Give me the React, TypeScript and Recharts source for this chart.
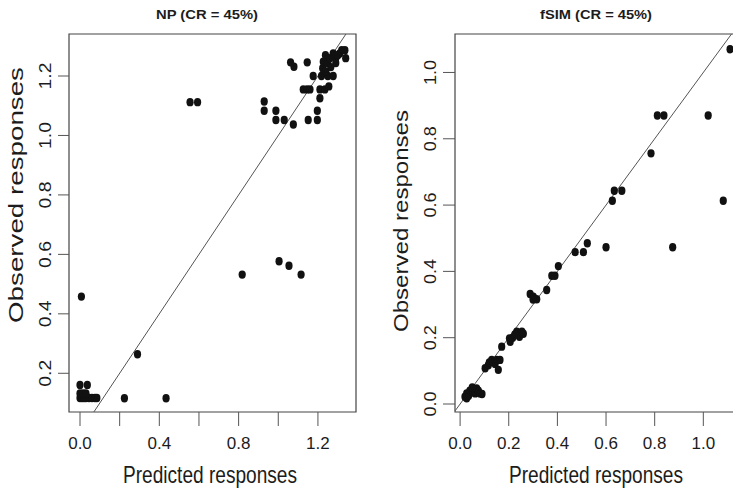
import React from 'react';
import { ScatterChart, Scatter, XAxis, YAxis, ReferenceLine, ReferenceArea } from 'recharts';

// ---------- Data ----------
const npPredicted = [
  0.000, 0.010, 0.020, 0.030, 0.045, 0.060, 0.075, 0.085,
  0.000, 0.015, 0.030, 0.000, 0.037, 0.007,
  0.224, 0.434, 0.290,
  0.818, 1.004, 1.054, 1.115,
  0.555, 0.593,
  0.929, 0.929, 0.988, 0.988, 1.030, 1.076,
  1.062, 1.079, 1.146,
  1.151, 1.197, 1.197, 1.210,
  1.126, 1.145, 1.160, 1.210, 1.235, 1.255,
  1.176, 1.218, 1.250, 1.277,
  1.224, 1.240, 1.227, 1.250, 1.290, 1.238, 1.277, 1.310, 1.290, 1.340, 1.320, 1.336, 1.260, 1.300, 1.265,
];
const npObserved = [
  0.117, 0.117, 0.117, 0.117, 0.117, 0.117, 0.117, 0.117,
  0.132, 0.132, 0.132, 0.161, 0.161, 0.458,
  0.116, 0.116, 0.264,
  0.532, 0.577, 0.562, 0.532,
  1.112, 1.112,
  1.114, 1.083, 1.083, 1.052, 1.052, 1.037,
  1.246, 1.231, 1.246,
  1.052, 1.052, 1.083, 1.125,
  1.155, 1.155, 1.155, 1.155, 1.155, 1.165,
  1.200, 1.200, 1.200, 1.200,
  1.226, 1.215, 1.248, 1.244, 1.244, 1.270, 1.276, 1.276, 1.260, 1.260, 1.287, 1.287, 1.260, 1.270, 1.230,
];

const fsimPredicted = [
  0.020, 0.027, 0.027, 0.035, 0.040, 0.048, 0.055, 0.062, 0.068, 0.075, 0.082, 0.090, 0.050,
  0.103, 0.116, 0.130, 0.144, 0.151, 0.164, 0.157, 0.120,
  0.171,
  0.203, 0.206, 0.216, 0.233, 0.244, 0.254, 0.260, 0.225,
  0.288, 0.301, 0.315, 0.300,
  0.356, 0.377, 0.390, 0.404,
  0.473, 0.507, 0.523, 0.600, 0.874,
  0.626, 0.634, 0.665, 1.082,
  0.785, 0.811, 0.838, 1.020, 1.110,
];
const fsimObserved = [
  0.022, 0.017, 0.032, 0.025, 0.040, 0.042, 0.035, 0.032, 0.047, 0.040, 0.032, 0.030, 0.050,
  0.108, 0.117, 0.133, 0.121, 0.133, 0.133, 0.103, 0.125,
  0.173,
  0.198, 0.188, 0.200, 0.218, 0.203, 0.218, 0.212, 0.210,
  0.332, 0.324, 0.316, 0.315,
  0.344, 0.387, 0.387, 0.416,
  0.458, 0.458, 0.485, 0.473, 0.473,
  0.613, 0.643, 0.643, 0.613,
  0.756, 0.870, 0.870, 0.870, 1.070,
];

const npXTicks = [0, 0.2, 0.4, 0.6, 0.8, 1.0, 1.2];
const npXLabels = ['0.0', '', '0.4', '', '0.8', '', '1.2'];
const npYTicks = [0.2, 0.4, 0.6, 0.8, 1.0, 1.2];
const npYLabels = ['0.2', '0.4', '0.6', '0.8', '1.0', '1.2'];

const fsimXTicks = [0, 0.2, 0.4, 0.6, 0.8, 1.0];
const fsimXLabels = ['0.0', '0.2', '0.4', '0.6', '0.8', '1.0'];
const fsimYTicks = [0, 0.2, 0.4, 0.6, 0.8, 1.0];
const fsimYLabels = ['0.0', '0.2', '0.4', '0.6', '0.8', '1.0'];

const panelTitles = ['NP (CR = 45%)', 'fSIM (CR = 45%)'];
const xTitle = 'Predicted responses';
const yTitle = 'Observed responses';

// ---------- Styles ----------
const FONT = '"Liberation Sans", Arial, Helvetica, sans-serif';
const FRAME = '#444';
const TEXT = '#1c1c1c';

const toPoints = (xs: number[], ys: number[]) => xs.map((x, i) => ({ x, y: ys[i] }));

const Dot = (props: any) => {
  const { cx, cy } = props;
  if (cx == null || cy == null) return <g />;
  return <ellipse cx={cx} cy={cy} rx={3.6} ry={4.2} fill="#111" />;
};

const findLabel = (ticks: number[], labels: string[], v: number) => {
  const i = ticks.findIndex((t) => Math.abs(t - v) < 1e-9);
  return i >= 0 ? labels[i] : '';
};

type PanelProps = {
  left: number;
  width: number;
  yAxisWidth: number;
  marginRight: number;
  xDomain: [number, number];
  yDomain: [number, number];
  xTicks: number[];
  xLabels: string[];
  yTicks: number[];
  yLabels: string[];
  xs: number[];
  ys: number[];
  lineFrom: number;
  lineTo: number;
  yTickSize: number;
  yLabelLen: number;
};

const Panel = (p: PanelProps) => {
  const data = toPoints(p.xs, p.ys);
  const XTick = (props: any) => {
    const lab = findLabel(p.xTicks, p.xLabels, props.payload.value);
    if (!lab) return <g />;
    return (
      <text x={props.x} y={props.y + 23} textAnchor="middle" fontSize={17} fill={TEXT} fontFamily={FONT}>
        {lab}
      </text>
    );
  };
  const YTick = (props: any) => {
    const lab = findLabel(p.yTicks, p.yLabels, props.payload.value);
    if (!lab) return <g />;
    const bx = props.x - 7;
    return (
      <text
        x={bx}
        y={props.y}
        transform={`rotate(-90, ${bx}, ${props.y})`}
        textAnchor="middle"
        fontSize={16}
        textLength={p.yLabelLen}
        lengthAdjust="spacingAndGlyphs"
        fill={TEXT}
        fontFamily={FONT}
      >
        {lab}
      </text>
    );
  };
  return (
    <div style={{ position: 'absolute', left: p.left, top: 0 }}>
      <ScatterChart width={p.width} height={494} margin={{ top: 34, right: p.marginRight, bottom: 0, left: 0 }}>
        <XAxis
          type="number"
          dataKey="x"
          domain={p.xDomain}
          allowDataOverflow
          ticks={p.xTicks}
          interval={0}
          height={82}
          axisLine={false}
          tickSize={14}
          tickMargin={0}
          tickLine={{ stroke: '#555', strokeWidth: 1 }}
          tick={XTick}
        />
        <YAxis
          type="number"
          dataKey="y"
          domain={p.yDomain}
          allowDataOverflow
          ticks={p.yTicks}
          interval={0}
          width={p.yAxisWidth}
          axisLine={false}
          tickSize={p.yTickSize}
          tickMargin={0}
          tickLine={{ stroke: '#555', strokeWidth: 1 }}
          tick={YTick}
        />
        <ReferenceArea
          x1={p.xDomain[0]}
          x2={p.xDomain[1]}
          y1={p.yDomain[0]}
          y2={p.yDomain[1]}
          fill="#fff"
          fillOpacity={0}
          stroke={FRAME}
          strokeWidth={1.2}
          ifOverflow="visible"
        />
        <ReferenceLine
          segment={[
            { x: p.lineFrom, y: p.lineFrom },
            { x: p.lineTo, y: p.lineTo },
          ]}
          stroke="#555"
          strokeWidth={1}
          ifOverflow="visible"
        />
        <Scatter data={data} shape={Dot} isAnimationActive={false} />
      </ScatterChart>
    </div>
  );
};

export default function App() {
  return (
    <div
      style={{
        position: 'fixed',
        left: 0,
        top: 0,
        width: 733,
        height: 494,
        overflow: 'hidden',
        background: '#fff',
      }}
    >
      <Panel
        left={0}
        width={370}
        yAxisWidth={69}
        marginRight={14}
        xDomain={[-0.0555, 1.392]}
        yDomain={[0.0698, 1.3413]}
        xTicks={npXTicks}
        xLabels={npXLabels}
        yTicks={npYTicks}
        yLabels={npYLabels}
        xs={npPredicted}
        ys={npObserved}
        lineFrom={0.0698}
        lineTo={1.3413}
        yTickSize={11}
        yLabelLen={27}
      />
      <Panel
        left={370}
        width={370}
        yAxisWidth={85}
        marginRight={2}
        xDomain={[-0.021, 1.1426]}
        yDomain={[-0.0241, 1.116]}
        xTicks={fsimXTicks}
        xLabels={fsimXLabels}
        yTicks={fsimYTicks}
        yLabels={fsimYLabels}
        xs={fsimPredicted}
        ys={fsimObserved}
        lineFrom={-0.0205}
        lineTo={1.116}
        yTickSize={12}
        yLabelLen={25}
      />
      <svg
        width={733}
        height={494}
        style={{ position: 'absolute', left: 0, top: 0, pointerEvents: 'none' }}
      >
        <text x={207} y={19} textAnchor="middle" fontSize={13.5} fontWeight="bold" fill={TEXT} fontFamily={FONT} textLength={102} lengthAdjust="spacingAndGlyphs">
          {panelTitles[0]}
        </text>
        <text x={596} y={19} textAnchor="middle" fontSize={13.5} fontWeight="bold" fill={TEXT} fontFamily={FONT} textLength={112} lengthAdjust="spacingAndGlyphs">
          {panelTitles[1]}
        </text>
        <text x={210} y={483} textAnchor="middle" fontSize={24} fill={TEXT} fontFamily={FONT} textLength={174} lengthAdjust="spacingAndGlyphs">
          {xTitle}
        </text>
        <text x={596} y={483} textAnchor="middle" fontSize={24} fill={TEXT} fontFamily={FONT} textLength={174} lengthAdjust="spacingAndGlyphs">
          {xTitle}
        </text>
        <text x={23} y={195} transform="rotate(-90, 23, 195)" textAnchor="middle" fontSize={21} fill={TEXT} fontFamily={FONT} textLength={256} lengthAdjust="spacingAndGlyphs">
          {yTitle}
        </text>
        <text x={408} y={221} transform="rotate(-90, 408, 221)" textAnchor="middle" fontSize={21} fill={TEXT} fontFamily={FONT} textLength={222} lengthAdjust="spacingAndGlyphs">
          {yTitle}
        </text>
      </svg>
    </div>
  );
}
